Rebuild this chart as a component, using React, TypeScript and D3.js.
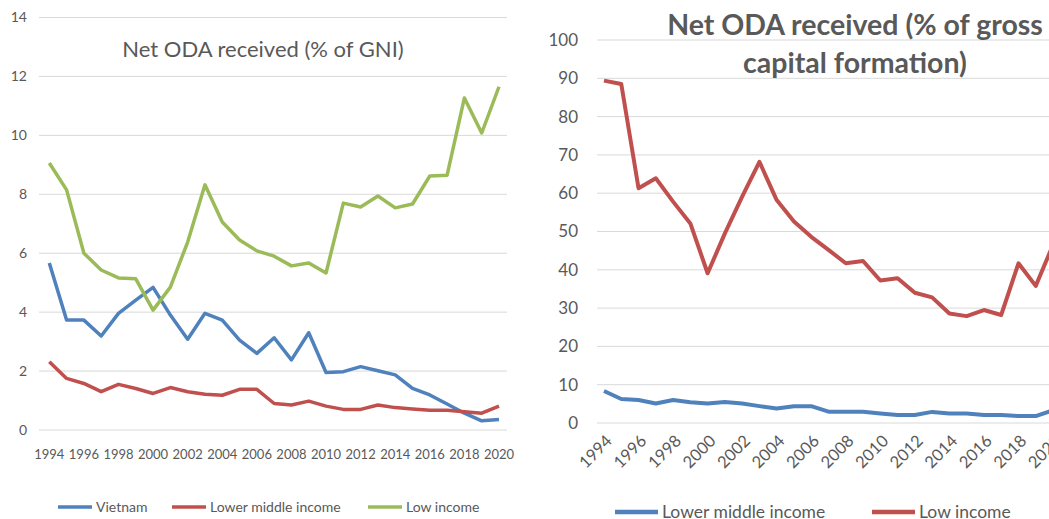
import { useEffect, useRef } from 'react';
import * as d3 from 'd3';

// years shared by both panels
const years = d3.range(1994, 2021).map(String);

// Net ODA received (% of GNI)
const vietnamGni = [5.67, 3.73, 3.73, 3.19, 3.96, 4.41, 4.84, 3.9, 3.08, 3.96, 3.73, 3.05, 2.6, 3.13, 2.38, 3.3, 1.95, 1.98, 2.15, 2.01, 1.87, 1.41, 1.19, 0.88, 0.57, 0.31, 0.36];
const lowerMiddleGni = [2.32, 1.75, 1.58, 1.3, 1.55, 1.41, 1.24, 1.44, 1.3, 1.21, 1.18, 1.38, 1.38, 0.9, 0.85, 0.98, 0.81, 0.7, 0.7, 0.85, 0.76, 0.71, 0.67, 0.67, 0.62, 0.57, 0.81];
const lowIncomeGni = [9.06, 8.15, 6.0, 5.43, 5.16, 5.13, 4.07, 4.85, 6.38, 8.32, 7.06, 6.45, 6.08, 5.9, 5.57, 5.67, 5.33, 7.7, 7.57, 7.94, 7.54, 7.67, 8.62, 8.65, 11.27, 10.08, 11.65];

// Net ODA received (% of gross capital formation)
const lowerMiddleGcf = [8.35, 6.27, 6.0, 5.1, 6.0, 5.4, 5.1, 5.5, 5.1, 4.4, 3.8, 4.4, 4.4, 2.96, 2.96, 2.96, 2.5, 2.1, 2.1, 2.9, 2.5, 2.5, 2.1, 2.1, 1.8, 1.8, 3.3];
const lowIncomeGcf = [89.4, 88.5, 61.3, 63.9, 57.8, 52.1, 39.1, 49.5, 59.1, 68.2, 58.2, 52.6, 48.6, 45.2, 41.7, 42.3, 37.2, 37.8, 34.0, 32.8, 28.6, 27.9, 29.5, 28.2, 41.7, 35.8, 46.5];

const leftTicks = [0, 2, 4, 6, 8, 10, 12, 14];
const rightTicks = [0, 10, 20, 30, 40, 50, 60, 70, 80, 90, 100];
const yearLabels = years.filter((_, i) => i % 2 === 0);

const BLUE = '#4f81bd';
const RED = '#c0504d';
const GREEN = '#9bbb59';
const GRID = '#d9d9d9';
const TEXT = '#595959';
const FONT = 'Lato, "Open Sans", sans-serif';

export default function App() {
  const svgRef = useRef<SVGSVGElement>(null);

  useEffect(() => {
    if (!svgRef.current) return;
    const svg = d3.select(svgRef.current);
    svg.selectAll('*').remove();

    const line = (x: d3.ScalePoint<string>, y: d3.ScaleLinear<number, number>) =>
      d3.line<number>()
        .x((_, i) => x(years[i]) as number)
        .y((d) => y(d));

    // ── left panel: % of GNI ──
    const xL = d3.scalePoint<string>().domain(years).range([49.3, 499]);
    const yL = d3.scaleLinear().domain([0, 14]).range([430, 17.5]);
    const gL = svg.append('g');

    gL.selectAll('.grid')
      .data(leftTicks)
      .enter()
      .append('line')
      .attr('x1', 39).attr('x2', 507)
      .attr('y1', (d) => yL(d)).attr('y2', (d) => yL(d))
      .attr('stroke', GRID).attr('stroke-width', 1);

    gL.selectAll('.ylab')
      .data(leftTicks)
      .enter()
      .append('text')
      .attr('x', 27).attr('y', (d) => yL(d))
      .attr('dy', '0.35em')
      .attr('text-anchor', 'end')
      .attr('font-size', 14)
      .text((d) => d);

    gL.selectAll('.xlab')
      .data(yearLabels)
      .enter()
      .append('text')
      .attr('x', (d) => xL(d) as number).attr('y', 454)
      .attr('dy', '0.35em')
      .attr('text-anchor', 'middle')
      .attr('font-size', 13)
      .text((d) => d);

    gL.append('text')
      .attr('x', 263).attr('y', 49)
      .attr('dy', '0.35em')
      .attr('text-anchor', 'middle')
      .attr('font-size', 22)
      .text('Net ODA received (% of GNI)');

    [[vietnamGni, BLUE], [lowerMiddleGni, RED], [lowIncomeGni, GREEN]].forEach(([vals, col]) => {
      gL.append('path')
        .datum(vals as number[])
        .attr('d', line(xL, yL))
        .attr('fill', 'none')
        .attr('stroke', col as string)
        .attr('stroke-width', 3.5)
        .attr('stroke-linejoin', 'round');
    });

    const legL = [
      { name: 'Vietnam', col: BLUE, x: 58 },
      { name: 'Lower middle income', col: RED, x: 172 },
      { name: 'Low income', col: GREEN, x: 368 },
    ];
    legL.forEach((d) => {
      gL.append('line')
        .attr('x1', d.x).attr('x2', d.x + 34)
        .attr('y1', 507).attr('y2', 507)
        .attr('stroke', d.col).attr('stroke-width', 3.5);
      gL.append('text')
        .attr('x', d.x + 38).attr('y', 507)
        .attr('dy', '0.35em')
        .attr('font-size', 14)
        .text(d.name);
    });

    // ── right panel: % of gross capital formation ──
    const xR = d3.scalePoint<string>().domain(years).range([604, 1053]);
    const yR = d3.scaleLinear().domain([0, 100]).range([423, 40]);
    const gR = svg.append('g');

    gR.selectAll('.grid')
      .data(rightTicks)
      .enter()
      .append('line')
      .attr('x1', 597).attr('x2', 1060)
      .attr('y1', (d) => yR(d)).attr('y2', (d) => yR(d))
      .attr('stroke', GRID).attr('stroke-width', 1);

    gR.selectAll('.ylab')
      .data(rightTicks)
      .enter()
      .append('text')
      .attr('x', 578).attr('y', (d) => yR(d))
      .attr('dy', '0.35em')
      .attr('text-anchor', 'end')
      .attr('font-size', 17)
      .text((d) => d);

    gR.selectAll('.xlab')
      .data(yearLabels)
      .enter()
      .append('text')
      .attr('transform', (d) => `translate(${(xR(d) as number) + 5},${438}) rotate(-45)`)
      .attr('dy', '0.35em')
      .attr('text-anchor', 'end')
      .attr('font-size', 16.5)
      .text((d) => d);

    const titleR = gR.append('text')
      .attr('text-anchor', 'middle')
      .attr('font-size', 28.5)
      .attr('font-weight', 'bold');
    titleR.append('tspan').attr('x', 855).attr('y', 25).attr('dy', '0.35em').text('Net ODA received (% of gross');
    titleR.append('tspan').attr('x', 855).attr('y', 63).attr('dy', '0.35em').text('capital formation)');

    [[lowerMiddleGcf, BLUE], [lowIncomeGcf, RED]].forEach(([vals, col]) => {
      gR.append('path')
        .datum(vals as number[])
        .attr('d', line(xR, yR))
        .attr('fill', 'none')
        .attr('stroke', col as string)
        .attr('stroke-width', 4)
        .attr('stroke-linejoin', 'round');
    });

    const legR = [
      { name: 'Lower middle income', col: BLUE, x: 615 },
      { name: 'Low income', col: RED, x: 872 },
    ];
    legR.forEach((d) => {
      gR.append('line')
        .attr('x1', d.x).attr('x2', d.x + 43)
        .attr('y1', 512).attr('y2', 512)
        .attr('stroke', d.col).attr('stroke-width', 4.5);
      gR.append('text')
        .attr('x', d.x + 47).attr('y', 512)
        .attr('dy', '0.35em')
        .attr('font-size', 17.5)
        .text(d.name);
    });

    svg.selectAll('text').attr('fill', TEXT).attr('font-family', FONT);
  }, []);

  return (
    <svg
      ref={svgRef}
      width={1049}
      height={519}
      style={{ position: 'absolute', left: 0, top: 0, background: '#fff' }}
    />
  );
}
